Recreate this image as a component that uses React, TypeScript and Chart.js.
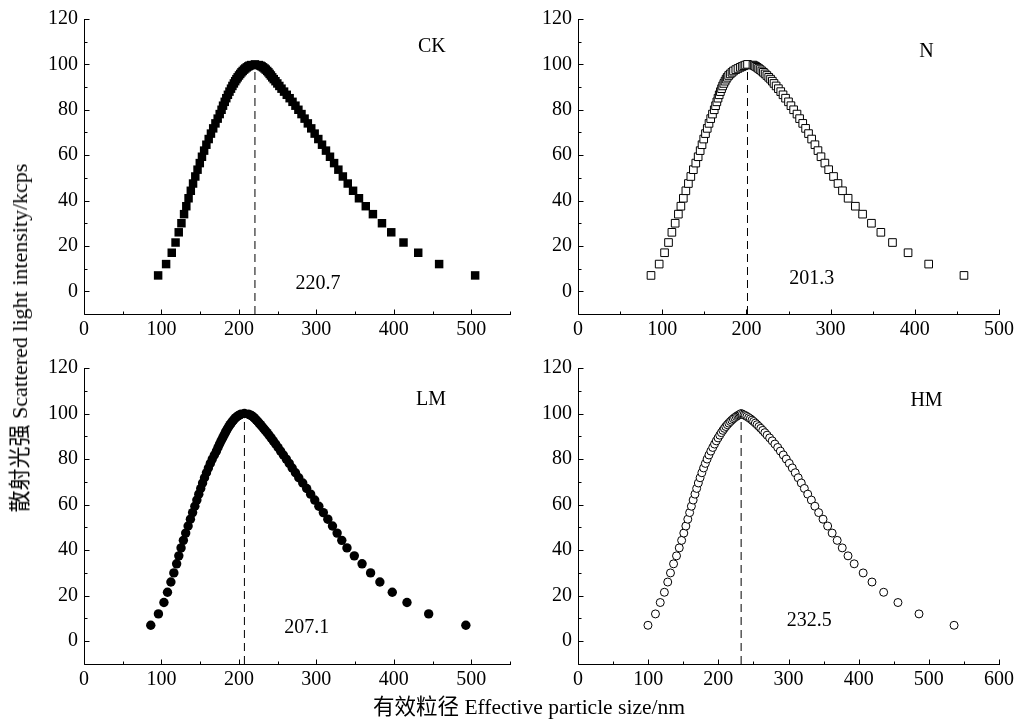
import React, { useEffect, useRef } from 'react';
import { Chart, registerables } from 'chart.js';

Chart.register(...registerables);

// Shared intensity levels (kcps) at which the distribution is sampled
const levels = [7, 12, 17, 21.5, 26, 30, 34, 37.5, 41, 44.3, 47.5, 50.6, 53.6, 56.5, 59.3, 62, 64.6, 67.1, 69.5, 71.8, 74, 76.1, 78.1, 80, 81.8, 83.5, 85.1, 86.6, 88, 89.3, 90.5, 91.6, 92.6, 93.5, 94.3, 95.1, 95.8, 96.5, 97.1, 97.7, 98.2, 98.7, 99.1, 99.4, 99.7, 100];

// Particle sizes (nm), rising side (ends at peak) and falling side
const ckLeft = [95.7, 106, 113.3, 118.2, 122.3, 125.8, 129.2, 132.1, 135, 137.9, 140.8, 143.7, 146.6, 149.5, 152.3, 155.1, 158, 161, 163.9, 166.8, 169.7, 172.6, 175.2, 177.6, 179.5, 181.7, 183.7, 185.8, 187.8, 189.8, 191.6, 193.5, 195.2, 196.8, 198.4, 200.1, 201.7, 203.3, 204.9, 206.7, 208.3, 210.2, 212, 213.5, 215.7, 220.7];
const ckRight = [505, 458.5, 431.5, 412.5, 396.7, 384.7, 373, 363.8, 355, 347.4, 340.5, 334.2, 328.4, 322.9, 317.6, 312.4, 307.3, 302.5, 297.8, 293.4, 289, 284.8, 280.8, 276.8, 273, 269.2, 265.5, 261.8, 258.3, 255, 252.2, 249.6, 247.2, 245, 243, 241.3, 239.7, 238.1, 236.5, 234.7, 233.1, 231.2, 229.4, 227.9, 225.7];

const nLeft = [86.7, 96.4, 102.8, 107.5, 111.5, 115.4, 119.2, 122.2, 125.1, 128.1, 131.1, 134, 137, 139.9, 142.7, 145.1, 147.3, 149.3, 151.4, 153.5, 155.6, 157.6, 159.7, 161.8, 163.4, 164.9, 166.3, 167.7, 169.1, 170.5, 171.8, 173.2, 174.6, 175.9, 177.2, 178.9, 180.8, 182.9, 184.7, 187.4, 190, 192.7, 195, 197, 199, 201.3];
const nRight = [458.4, 416.5, 392, 373.5, 359.7, 348.5, 338, 329.4, 320.8, 314.1, 308.8, 303.5, 297.7, 293.2, 288.6, 285, 281.4, 277.5, 273.8, 270.3, 266.9, 263.2, 260.1, 256.1, 252.9, 250, 246.5, 243.5, 240.8, 238, 235.3, 232.8, 230.8, 228.7, 226.5, 224.3, 222.2, 220.2, 218.3, 216.3, 214.5, 212.7, 211, 209.6, 207.8];

const lmLeft = [86.2, 96.1, 103.2, 107.8, 112.2, 116, 119.6, 122.4, 125.3, 128.3, 131.3, 134.4, 137.4, 140.2, 143.1, 145.7, 148.2, 150.7, 153.1, 155.6, 158.1, 160.6, 163.1, 165.6, 168.3, 171, 173, 175, 177, 179, 180.8, 182.5, 184, 185.5, 187, 188.5, 190, 191.5, 193, 194.5, 196, 197.8, 199.4, 200.9, 202.6, 207.1];
const lmRight = [493, 445, 417, 398, 382, 370, 359, 349, 339.5, 332.8, 326.8, 320.8, 314.8, 309, 303.2, 297.9, 292.6, 287.5, 282.4, 277.3, 273, 268.8, 265, 261.2, 257.4, 253.8, 250.6, 247.4, 244.4, 241.6, 238.9, 236.4, 234, 231.8, 229.8, 227.8, 226, 224.3, 222.6, 220.9, 219.4, 217.8, 216.1, 214.6, 212.3];

const hmLeft = [99.7, 110.4, 117.2, 123.1, 127.9, 131.8, 136.2, 140.4, 144.3, 147.7, 150.8, 153.7, 156.5, 159.1, 161.6, 164.1, 166.7, 169.1, 171.5, 174, 176.5, 179, 181.5, 184, 186.6, 189.3, 192, 194.6, 197.1, 199.6, 202, 204.3, 206.5, 208.6, 210.6, 212.8, 214.9, 217.1, 219.1, 221.3, 223.3, 225.5, 227.5, 229.3, 231.1, 232.5];
const hmRight = [536, 486, 456, 435.6, 419, 406.4, 393.6, 384.8, 376.6, 369.4, 362.2, 355.8, 349.2, 343, 337.6, 332.6, 327.4, 322.6, 318.2, 313.8, 309.6, 305.4, 301.1, 296.8, 292.6, 288.4, 284.6, 280.6, 276.8, 273.1, 269.5, 266.3, 263.3, 260.5, 257.9, 255.2, 252.8, 250.3, 248, 245.6, 243.2, 240.7, 238.5, 236.5, 234.3];

const sampleNames = ['CK', 'N', 'LM', 'HM'];
const peakSizes = [220.7, 201.3, 207.1, 232.5];
const xAxisMax = [550, 500, 550, 600];
const yTickValues = { min: -10, max: 120, step: 10 };

const FONT = '"Liberation Serif", "Times New Roman", "Noto Sans CJK SC", serif';

type PanelCfg = {
  name: string;
  peak: number;
  xMax: number;
  left: number[];
  right: number[];
  style: 'rect' | 'circle';
  filled: boolean;
  radius: number;
  box: { l: number; t: number; r: number; b: number };
  nameAt: [number, number];
  peakAt: [number, number];
};

const panels: PanelCfg[] = [
  { name: sampleNames[0], peak: peakSizes[0], xMax: xAxisMax[0], left: ckLeft, right: ckRight, style: 'rect', filled: true, radius: 6, box: { l: 84, t: 19, r: 510, b: 314 }, nameAt: [449, 107.8], peakAt: [302, 3.4] },
  { name: sampleNames[1], peak: peakSizes[1], xMax: xAxisMax[1], left: nLeft, right: nRight, style: 'rect', filled: false, radius: 5.4, box: { l: 578, t: 19, r: 1003, b: 314 }, nameAt: [414, 105.7], peakAt: [277.6, 5.6] },
  { name: sampleNames[2], peak: peakSizes[2], xMax: xAxisMax[2], left: lmLeft, right: lmRight, style: 'circle', filled: true, radius: 4.7, box: { l: 84, t: 368, r: 510, b: 664 }, nameAt: [448, 106], peakAt: [287.7, 6.1] },
  { name: sampleNames[3], peak: peakSizes[3], xMax: xAxisMax[3], left: hmLeft, right: hmRight, style: 'circle', filled: false, radius: 4, box: { l: 578, t: 368, r: 1003, b: 664 }, nameAt: [496.7, 105.5], peakAt: [329.5, 8.8] },
];

const inwardAxes = {
  id: 'inwardAxes',
  afterDraw(chart: any) {
    const { ctx, chartArea: a, scales } = chart;
    const xs = scales.x;
    const ys = scales.y;
    const L = Math.round(a.left) + 0.5;
    const B = Math.round(a.bottom) + 0.5;
    ctx.save();
    ctx.strokeStyle = '#000';
    ctx.lineWidth = 1;
    ctx.beginPath();
    ctx.moveTo(L, Math.round(a.top));
    ctx.lineTo(L, B);
    ctx.lineTo(Math.round(a.right) + 1, B);
    xs.ticks.forEach((t: any) => {
      const px = Math.round(xs.getPixelForValue(t.value)) + 0.5;
      const len = t.value % 100 === 0 ? 5 : 3;
      ctx.moveTo(px, B);
      ctx.lineTo(px, B - len);
    });
    ys.ticks.forEach((t: any) => {
      const py = Math.round(ys.getPixelForValue(t.value)) + 0.5;
      const len = t.value % 20 === 0 ? 5 : 3;
      ctx.moveTo(L, py);
      ctx.lineTo(L + len, py);
    });
    ctx.stroke();
    ctx.restore();
  },
};

const panelText = {
  id: 'panelText',
  afterDraw(chart: any, _args: any, opts: any) {
    const { ctx, scales } = chart;
    ctx.save();
    ctx.fillStyle = '#000';
    ctx.font = `20px ${FONT}`;
    ctx.textAlign = 'center';
    ctx.textBaseline = 'middle';
    ctx.fillText(opts.name, scales.x.getPixelForValue(opts.nameAt[0]), scales.y.getPixelForValue(opts.nameAt[1]));
    ctx.fillText(opts.peakLabel, scales.x.getPixelForValue(opts.peakAt[0]), scales.y.getPixelForValue(opts.peakAt[1]));
    ctx.restore();
  },
};

function Panel({ cfg }: { cfg: PanelCfg }) {
  const ref = useRef<HTMLCanvasElement>(null);
  const w = cfg.box.r - cfg.box.l + 75;
  const h = cfg.box.b - cfg.box.t + 59;

  useEffect(() => {
    const pts = [
      ...cfg.left.map((x, i) => ({ x, y: levels[i] })),
      ...cfg.right.map((x, i) => ({ x, y: levels[i] })).reverse(),
    ];
    const chart = new Chart(ref.current as HTMLCanvasElement, {
      type: 'scatter',
      data: {
        datasets: [
          {
            type: 'scatter',
            data: pts,
            pointStyle: cfg.style,
            pointRadius: cfg.radius,
            pointHoverRadius: cfg.radius,
            backgroundColor: cfg.filled ? '#000' : '#fff',
            borderColor: '#000',
            borderWidth: cfg.filled ? 0 : 1,
            order: 1,
          } as any,
          {
            type: 'line',
            data: [
              { x: cfg.peak, y: yTickValues.min },
              { x: cfg.peak, y: 100 },
            ],
            borderColor: '#000',
            borderWidth: 1,
            borderDash: [8, 5],
            pointRadius: 0,
            fill: false,
            order: 2,
          } as any,
        ],
      },
      options: {
        animation: false,
        responsive: false,
        maintainAspectRatio: false,
        events: [],
        layout: { padding: { left: 0, top: 19, right: 15, bottom: 0 } },
        plugins: {
          legend: { display: false },
          tooltip: { enabled: false },
          panelText: { name: cfg.name, nameAt: cfg.nameAt, peakLabel: cfg.peak.toFixed(1), peakAt: cfg.peakAt },
        } as any,
        scales: {
          x: {
            type: 'linear',
            min: 0,
            max: cfg.xMax,
            grid: { display: false, drawTicks: false },
            border: { display: false },
            ticks: {
              stepSize: 50,
              autoSkip: false,
              maxRotation: 0,
              padding: 4,
              color: '#000',
              font: { family: FONT, size: 20 },
              callback: (v: any) => (Number(v) % 100 === 0 ? String(v) : ''),
            },
            afterFit: (s: any) => {
              s.height = 40;
            },
          },
          y: {
            type: 'linear',
            min: yTickValues.min,
            max: yTickValues.max,
            grid: { display: false, drawTicks: false },
            border: { display: false },
            ticks: {
              stepSize: yTickValues.step,
              autoSkip: false,
              padding: 6,
              color: '#000',
              font: { family: FONT, size: 20 },
              callback: (v: any) => (Number(v) >= 0 && Number(v) % 20 === 0 ? String(v) : ''),
            },
            afterFit: (s: any) => {
              s.width = 60;
            },
          },
        } as any,
      },
      plugins: [inwardAxes, panelText],
    });
    return () => chart.destroy();
  }, []);

  return (
    <canvas
      ref={ref}
      width={w}
      height={h}
      style={{ position: 'absolute', left: cfg.box.l - 60, top: cfg.box.t - 19, width: w, height: h }}
    />
  );
}

export default function App() {
  return (
    <div style={{ position: 'absolute', left: 0, top: 0, width: 1022, height: 721, background: '#fff', fontFamily: FONT, color: '#000' }}>
      {panels.map((p) => (
        <Panel key={p.name} cfg={p} />
      ))}
      <div
        style={{
          position: 'absolute',
          left: 20,
          top: 338,
          transform: 'translate(-50%, -50%) rotate(-90deg)',
          whiteSpace: 'nowrap',
          fontSize: 22,
          lineHeight: '24px',
        }}
      >
        散射光强 Scattered light intensity/kcps
      </div>
      <div
        style={{
          position: 'absolute',
          left: 529,
          top: 707,
          transform: 'translate(-50%, -50%)',
          whiteSpace: 'nowrap',
          fontSize: 21.5,
          lineHeight: '24px',
        }}
      >
        有效粒径 Effective particle size/nm
      </div>
    </div>
  );
}
